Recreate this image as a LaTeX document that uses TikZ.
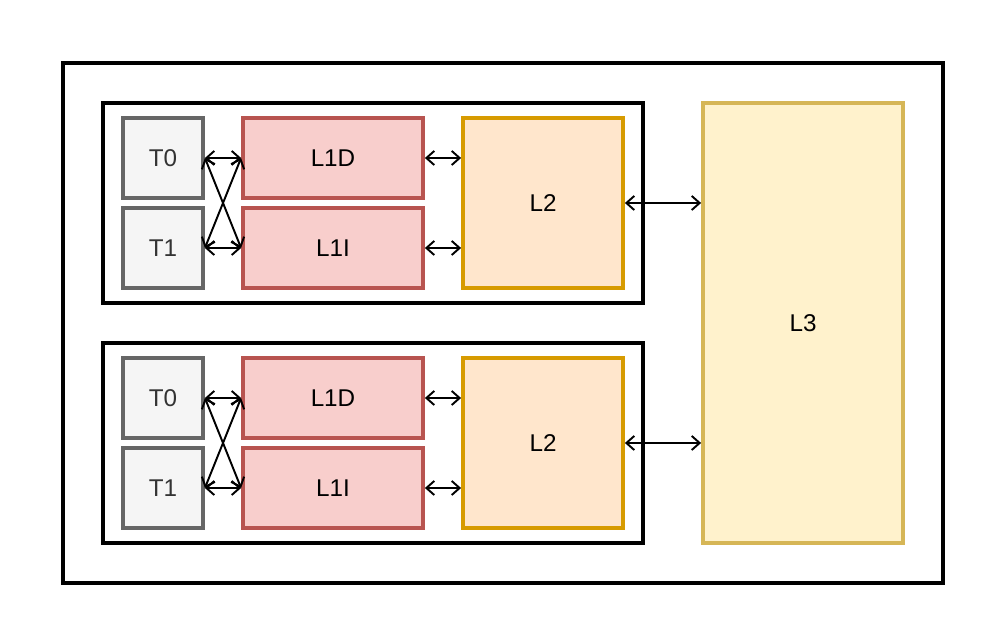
\documentclass[tikz,border=0pt]{standalone}
\usepackage{fontspec}
\setmainfont{Liberation Sans}
\usetikzlibrary{arrows.meta}
\definecolor{tfill}{HTML}{F5F5F5}
\definecolor{tdraw}{HTML}{666666}
\definecolor{tfont}{HTML}{333333}
\definecolor{lonefill}{HTML}{F8CECC}
\definecolor{lonedraw}{HTML}{B85450}
\definecolor{ltwofill}{HTML}{FFE6CC}
\definecolor{ltwodraw}{HTML}{D79B00}
\definecolor{lthreefill}{HTML}{FFF2CC}
\definecolor{lthreedraw}{HTML}{D6B656}
\tikzstyle{every node}=[draw=black,line width=2.2pt,inner sep=0pt,font=\fontsize{13.8}{16}\selectfont]
\tikzstyle{frame}=[minimum width=10.8cm, minimum height=4cm]
\tikzstyle{thread}=[fill=tfill, draw=tdraw, text=tfont, minimum width=1.6cm, minimum height=1.6cm]
\tikzstyle{lone}=[fill=lonefill, draw=lonedraw, minimum width=3.6cm, minimum height=1.6cm]
\tikzstyle{ltwo}=[fill=ltwofill, draw=ltwodraw, minimum width=3.2cm, minimum height=3.4cm]
\tikzstyle{link}=[{Straight Barb[length=4.5pt,width=8pt]}-{Straight Barb[length=4.5pt,width=8pt]}, line width=1.1pt]

\begin{document}
\begin{tikzpicture}[x=0.02cm, y=-0.02cm]
      \useasboundingbox (0,0) rectangle (1004,644);
      \node [minimum width=17.6cm, minimum height=10.4cm] (chip) at (503,323) {};
      \node [fill=lthreefill, draw=lthreedraw, minimum width=4cm, minimum height=8.8cm] (L3) at (803,323) {L3};
      % first core
      \node [frame] (coreA) at (373,203) {};
      \node [thread] (T0a) at (163,158) {T0};
      \node [thread] (T1a) at (163,248) {T1};
      \node [lone] (L1Da) at (333,158) {L1D};
      \node [lone] (L1Ia) at (333,248) {L1I};
      \node [ltwo] (L2a) at (543,203) {L2};
      % second core
      \node [frame] (coreB) at (373,443) {};
      \node [thread] (T0b) at (163,398) {T0};
      \node [thread] (T1b) at (163,488) {T1};
      \node [lone] (L1Db) at (333,398) {L1D};
      \node [lone] (L1Ib) at (333,488) {L1I};
      \node [ltwo] (L2b) at (543,443) {L2};
      % links
      \draw [link] (T0a.east) -- (L1Da.west);
      \draw [link] (T1a.east) -- (L1Ia.west);
      \draw [link] (T0a.east) -- (L1Ia.west);
      \draw [link] (T1a.east) -- (L1Da.west);
      \draw [link] (L1Da.east) -- (L1Da.east -| L2a.west);
      \draw [link] (L1Ia.east) -- (L1Ia.east -| L2a.west);
      \draw [link] (L2a.east) -- (L2a.east -| L3.west);
      \draw [link] (T0b.east) -- (L1Db.west);
      \draw [link] (T1b.east) -- (L1Ib.west);
      \draw [link] (T0b.east) -- (L1Ib.west);
      \draw [link] (T1b.east) -- (L1Db.west);
      \draw [link] (L1Db.east) -- (L1Db.east -| L2b.west);
      \draw [link] (L1Ib.east) -- (L1Ib.east -| L2b.west);
      \draw [link] (L2b.east) -- (L2b.east -| L3.west);
\end{tikzpicture}
\end{document}
